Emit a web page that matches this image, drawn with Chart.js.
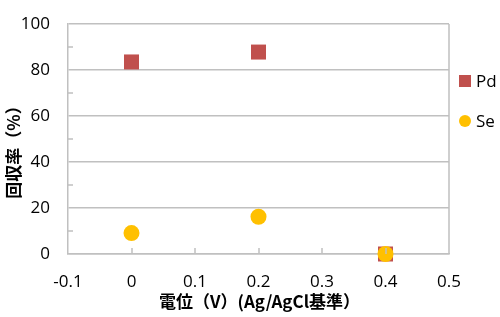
<!DOCTYPE html>
<html><head><meta charset="utf-8">
<script src="https://cdn.jsdelivr.net/npm/chart.js@4"></script>
<style>html,body{margin:0;padding:0;background:#fff}#wrap{width:500px;height:317px}</style>
</head><body><div id="wrap"><canvas id="c" width="500" height="317"></canvas></div>
<script>
const potentials = [0, 0.2, 0.4];
const pdValues = [83.5, 87.8, 0];
const seValues = [9.1, 16.2, 0];
const seriesNames = ['Pd', 'Se'];
const xTitle = '電位（V）(Ag/AgCl基準）';
const yTitle = '回収率（%）';

const numFont = "'Open Sans', 'Liberation Sans', sans-serif";
const cjkFont = "'Noto Sans CJK JP', 'Open Sans', sans-serif";
const gridCol = '#c0c0c0';

const extras = {
  id: 'extras',
  afterDatasetsDraw(chart) {
    const {ctx, chartArea: a, scales: {x, y}} = chart;
    ctx.save();
    ctx.strokeStyle = gridCol;
    ctx.lineWidth = 1.5;
    ctx.beginPath();
    for (let v = 10; v < 100; v += 20) {
      const py = Math.round(y.getPixelForValue(v));
      ctx.moveTo(a.left, py); ctx.lineTo(a.left + 5, py);
    }
    for (let i = 0; i <= 4; i++) {
      const px = Math.round(x.getPixelForValue(i / 10));
      ctx.moveTo(px, a.bottom); ctx.lineTo(px, a.bottom - 6);
    }
    ctx.moveTo(a.right, a.top); ctx.lineTo(a.right, a.bottom);
    ctx.stroke();
    // axis titles
    ctx.fillStyle = '#000';
    ctx.font = "bold 17px " + cjkFont;
    ctx.textAlign = 'center';
    ctx.textBaseline = 'middle';
    ctx.fillText(xTitle, (a.left + a.right) / 2 + 1, 302);
    ctx.save();
    ctx.translate(14, 148);
    ctx.rotate(-Math.PI / 2);
    ctx.fillText(yTitle, 0, 0);
    ctx.restore();
    // legend
    const ds = chart.data.datasets;
    const items = [ds.find(d => d.label === 'Pd'), ds.find(d => d.label === 'Se')];
    const lx = a.right + 16, ly0 = 81, gap = 40;
    ctx.font = "17px " + numFont;
    ctx.textAlign = 'left';
    items.forEach((d, i) => {
      const cy = ly0 + i * gap;
      ctx.fillStyle = d.backgroundColor;
      if (d.pointStyle === 'rect') {
        ctx.fillRect(lx - 6, cy - 6, 12, 12);
      } else {
        ctx.beginPath(); ctx.arc(lx, cy, 6, 0, Math.PI * 2); ctx.fill();
      }
      ctx.fillStyle = '#000';
      ctx.fillText(d.label, lx + 11, cy + 1);
    });
    ctx.restore();
  }
};

new Chart(document.getElementById('c'), {
  type: 'scatter',
  data: {
    datasets: [
      { label: seriesNames[1], data: potentials.map((p, i) => ({x: p, y: seValues[i]})), clip: false,
        backgroundColor: '#FFC000', borderColor: '#FFC000', pointStyle: 'circle', pointRadius: 8, pointHoverRadius: 8, borderWidth: 0 },
      { label: seriesNames[0], data: potentials.map((p, i) => ({x: p, y: pdValues[i]})), clip: false,
        backgroundColor: '#C0504D', borderColor: '#C0504D', pointStyle: 'rect', pointRadius: 10.6, pointHoverRadius: 10.6, borderWidth: 0 }
    ]
  },
  options: {
    responsive: false, animation: false,
    layout: { padding: { top: 24, right: 51, left: 0, bottom: 0 } },
    plugins: { legend: { display: false }, tooltip: { enabled: false } },
    scales: {
      x: {
        type: 'linear', min: -0.1, max: 0.5,
        afterFit(s) { s.height = 63; },
        afterBuildTicks(s) { s.ticks = [-0.1,0,0.1,0.2,0.3,0.4,0.5].map(v => ({value: v})); },
        ticks: { color: '#000', font: { family: numFont, size: 17 }, padding: 18,
          callback: v => { const r = Math.round(v * 10) / 10; return r === 0 ? '0' : String(r); } },
        grid: { display: true, drawOnChartArea: false, drawTicks: false, tickLength: 0 },
        border: { display: true, color: gridCol, width: 1.5 },
        title: { display: false }
      },
      y: {
        min: 0, max: 100,
        afterFit(s) { s.width = 68; },
        ticks: { stepSize: 20, color: '#000', font: { family: numFont, size: 17 }, padding: 4 },
        grid: { color: gridCol, lineWidth: 1.5, drawTicks: true, tickLength: 14, tickColor: 'rgba(0,0,0,0)' },
        border: { display: true, color: gridCol, width: 1.5 },
        title: { display: false }
      }
    }
  },
  plugins: [extras]
});
</script></body></html>
